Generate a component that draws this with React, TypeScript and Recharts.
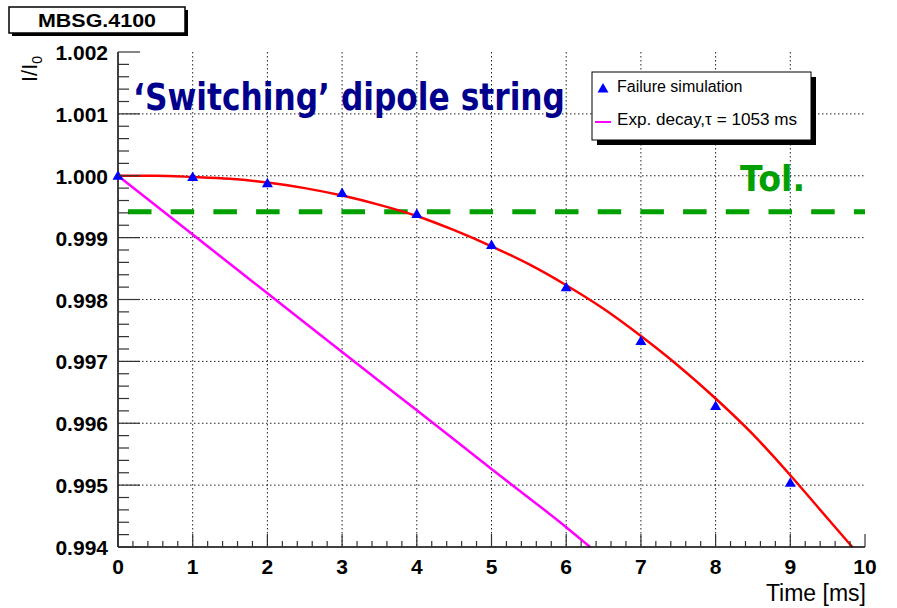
import React from 'react';
import { ComposedChart, Line, Scatter, XAxis, YAxis, CartesianGrid, ReferenceLine } from 'recharts';

// ---- data ----
const simTimes = [0, 1, 2, 3, 4, 5, 6, 7, 8, 9];
const simValues = [1.0, 0.99998, 0.99988, 0.99972, 0.99938, 0.99888, 0.9982, 0.99733, 0.99628, 0.99504];

const fitTimes = [0, 0.5, 1, 1.5, 2, 2.5, 3, 3.5, 4, 4.5, 5, 5.5, 6, 6.5, 7, 7.5, 8, 8.5, 9, 9.5, 9.83];
const fitValues = [1.0, 1.0, 0.99998, 0.99995, 0.99989, 0.9998, 0.99968, 0.99953, 0.99935, 0.99912, 0.99886, 0.99857, 0.99823, 0.99785, 0.99741, 0.99693, 0.9964, 0.99582, 0.99516, 0.99446, 0.994];

const expTimes = [0, 1, 2, 3, 4, 5, 6, 6.32];
const expValues = [1.0, 0.99905, 0.9981, 0.99715, 0.99621, 0.99526, 0.99432, 0.994];

const tolerance = 0.99942;

const xMajorTicks = [0, 1, 2, 3, 4, 5, 6, 7, 8, 9, 10];
const yMajorTicks = [0.994, 0.995, 0.996, 0.997, 0.998, 0.999, 1.0, 1.001, 1.002];
const xGridValues = [1, 2, 3, 4, 5, 6, 7, 8, 9];
const yGridValues = [0.995, 0.996, 0.997, 0.998, 0.999, 1.0, 1.001];

const seriesNames = ['Failure simulation', 'Exp. decay,\u03c4 = 1053 ms'];

// ---- derived tables ----
const simData = simTimes.map((t, i) => ({ t, v: simValues[i] }));
const fitData = fitTimes.map((t, i) => ({ t, v: fitValues[i] }));
const expData = expTimes.map((t, i) => ({ t, v: expValues[i] }));

function withMinors(majors: number[], n: number, digits: number): number[] {
  const out: number[] = [];
  for (let i = 0; i < majors.length - 1; i++) {
    const a = majors[i];
    const b = majors[i + 1];
    for (let k = 0; k < n; k++) out.push(Number((a + ((b - a) * k) / n).toFixed(digits)));
  }
  out.push(majors[majors.length - 1]);
  return out;
}
const xTicks = withMinors(xMajorTicks, 5, 3);
const yTicks = withMinors(yMajorTicks, 5, 5);
const isMajor = (v: number, list: number[]) => list.some((m) => Math.abs(m - v) < 1e-7);

const FONT = '"Liberation Sans", Arial, Helvetica, sans-serif';
const TICK_COLOR = '#333';

const BottomTick = (props: any) => {
  const { x, y, payload } = props;
  const v = payload.value;
  const major = isMajor(v, xMajorTicks);
  return (
    <g>
      <line x1={x} x2={x} y1={y} y2={y - (major ? 13 : 6)} stroke={TICK_COLOR} strokeWidth={1.2} />
      {major && (
        <text x={x} y={y + 27} textAnchor="middle" fontFamily={FONT} fontWeight="bold" fontSize={21} fill="#000">
          {String(v)}
        </text>
      )}
    </g>
  );
};

const TopTick = (props: any) => {
  const { x, y, payload } = props;
  const major = isMajor(payload.value, xMajorTicks);
  return <line x1={x} x2={x} y1={y} y2={y + (major ? 13 : 7)} stroke={TICK_COLOR} strokeWidth={1.2} />;
};

const LeftTick = (props: any) => {
  const { x, y, payload } = props;
  const v = payload.value;
  const major = isMajor(v, yMajorTicks);
  return (
    <g>
      <line x1={x} x2={x + (major ? 22 : 11)} y1={y} y2={y} stroke={TICK_COLOR} strokeWidth={1.2} />
      {major && (
        <text x={x - 10} y={y + 8} textAnchor="end" fontFamily={FONT} fontWeight="bold" fontSize={21} fill="#000">
          {v.toFixed(3)}
        </text>
      )}
    </g>
  );
};

const RightTick = (props: any) => {
  const { x, y, payload } = props;
  const major = isMajor(payload.value, yMajorTicks);
  return <line x1={x} x2={x - (major ? 22 : 11)} y1={y} y2={y} stroke={TICK_COLOR} strokeWidth={1.2} />;
};

const Triangle = (props: any) => {
  const { cx, cy } = props;
  if (cx == null || cy == null) return null;
  return <polygon points={`${cx},${cy - 5.5} ${cx - 5.5},${cy + 4} ${cx + 5.5},${cy + 4}`} fill="#0000ff" />;
};

export default function App() {
  return (
    <div style={{ position: 'absolute', left: 0, top: 0, width: 897, height: 608, background: '#fff' }}>
      <ComposedChart
        width={897}
        height={608}
        margin={{ top: 52, right: 32, bottom: 0, left: 0 }}
        style={{ position: 'absolute', left: 0, top: 0 }}
      >
        <CartesianGrid
          xAxisId="b"
          yAxisId="l"
          horizontalValues={yGridValues}
          verticalValues={xGridValues}
          stroke="#222"
          strokeDasharray="1.5 2.5"
          strokeWidth={1}
          fill="none"
        />
        <XAxis
          xAxisId="b"
          dataKey="t"
          type="number"
          domain={[0, 10]}
          ticks={xTicks}
          interval={0}
          orientation="bottom"
          height={61}
          tickSize={0}
          tickMargin={0}
          tickLine={false}
          axisLine={{ stroke: '#000', strokeWidth: 1.5 }}
          tick={(p: any) => <BottomTick {...p} />}
        />
        <XAxis
          xAxisId="t"
          dataKey="t"
          type="number"
          domain={[0, 10]}
          ticks={xTicks}
          interval={0}
          allowDataOverflow
          orientation="top"
          height={0}
          tickSize={0}
          tickMargin={0}
          tickLine={false}
          axisLine={{ stroke: '#000', strokeWidth: 1.5 }}
          tick={(p: any) => <TopTick {...p} />}
        />
        <YAxis
          yAxisId="l"
          dataKey="v"
          type="number"
          domain={[0.994, 1.002]}
          ticks={yTicks}
          interval={0}
          orientation="left"
          width={118}
          tickSize={0}
          tickMargin={0}
          tickLine={false}
          axisLine={{ stroke: '#000', strokeWidth: 1.5 }}
          tick={(p: any) => <LeftTick {...p} />}
        />
        <YAxis
          yAxisId="r"
          dataKey="v"
          type="number"
          domain={[0.994, 1.002]}
          ticks={yTicks}
          interval={0}
          allowDataOverflow
          orientation="right"
          width={0}
          tickSize={0}
          tickMargin={0}
          tickLine={false}
          axisLine={{ stroke: '#000', strokeWidth: 1.5 }}
          tick={(p: any) => <RightTick {...p} />}
        />
        <ReferenceLine
          xAxisId="b"
          yAxisId="l"
          y={tolerance}
          stroke="#00a000"
          strokeWidth={5}
          strokeDasharray="23.5 19.2"
          strokeDashoffset={32.7}
        />
        <Line
          xAxisId="b"
          yAxisId="l"
          data={expData}
          dataKey="v"
          name={seriesNames[1]}
          type="monotone"
          stroke="#ff00ff"
          strokeWidth={2.5}
          dot={false}
          isAnimationActive={false}
        />
        <Line
          xAxisId="b"
          yAxisId="l"
          data={fitData}
          dataKey="v"
          name="fit"
          type="monotone"
          stroke="#ff0000"
          strokeWidth={2.5}
          dot={false}
          isAnimationActive={false}
        />
        <Scatter
          xAxisId="b"
          yAxisId="l"
          data={simData}
          dataKey="v"
          name={seriesNames[0]}
          shape={(p: any) => <Triangle {...p} />}
          isAnimationActive={false}
        />
      </ComposedChart>

      <svg width={897} height={608} style={{ position: 'absolute', left: 0, top: 0, pointerEvents: 'none' }}>
        {/* top-left label box */}
        <rect x={12} y={10} width={176} height={26} fill="#000" />
        <rect x={9} y={7} width={176} height={26} fill="#fff" stroke="#000" strokeWidth={1.5} />
        <text x={97} y={27} textAnchor="middle" fontFamily={FONT} fontWeight="bold" fontSize={19} textLength={118} lengthAdjust="spacingAndGlyphs">
          MBSG.4100
        </text>

        {/* title */}
        <text x={133} y={110} fontFamily='"DejaVu Sans", Verdana, sans-serif' fontWeight="bold" fontSize={37} fill="#00008c" textLength={432} lengthAdjust="spacingAndGlyphs">
          {'\u2018Switching\u2019 dipole string'}
        </text>

        {/* tolerance label */}
        <text x={740} y={191} fontFamily='"DejaVu Sans", Verdana, sans-serif' fontWeight="bold" fontSize={35} fill="#00a000" textLength={65} lengthAdjust="spacingAndGlyphs">
          Tol.
        </text>

        {/* axis titles */}
        <text x={866} y={601} textAnchor="end" fontFamily={FONT} fontSize={23} fill="#000">
          Time [ms]
        </text>
        <text transform="translate(37,82) rotate(-90)" fontFamily={FONT} fontSize={22} fill="#000">
          I/I
          <tspan fontSize={14} dy={5}>0</tspan>
        </text>

        {/* legend */}
        <rect x={597} y={77} width={219} height={68} fill="#000" />
        <rect x={592} y={72} width={219} height={68} fill="#fff" stroke="#000" strokeWidth={1} />
        <polygon points="603,83 597.5,92.5 608.5,92.5" fill="#0000ff" />
        <text x={617} y={92} fontFamily={FONT} fontSize={16} fill="#000">
          {seriesNames[0]}
        </text>
        <line x1={595} x2={611} y1={122} y2={122} stroke="#ff00ff" strokeWidth={2} />
        <text x={617} y={125} fontFamily={FONT} fontSize={16} fill="#000" textLength={180} lengthAdjust="spacingAndGlyphs">
          {seriesNames[1]}
        </text>
      </svg>
    </div>
  );
}
